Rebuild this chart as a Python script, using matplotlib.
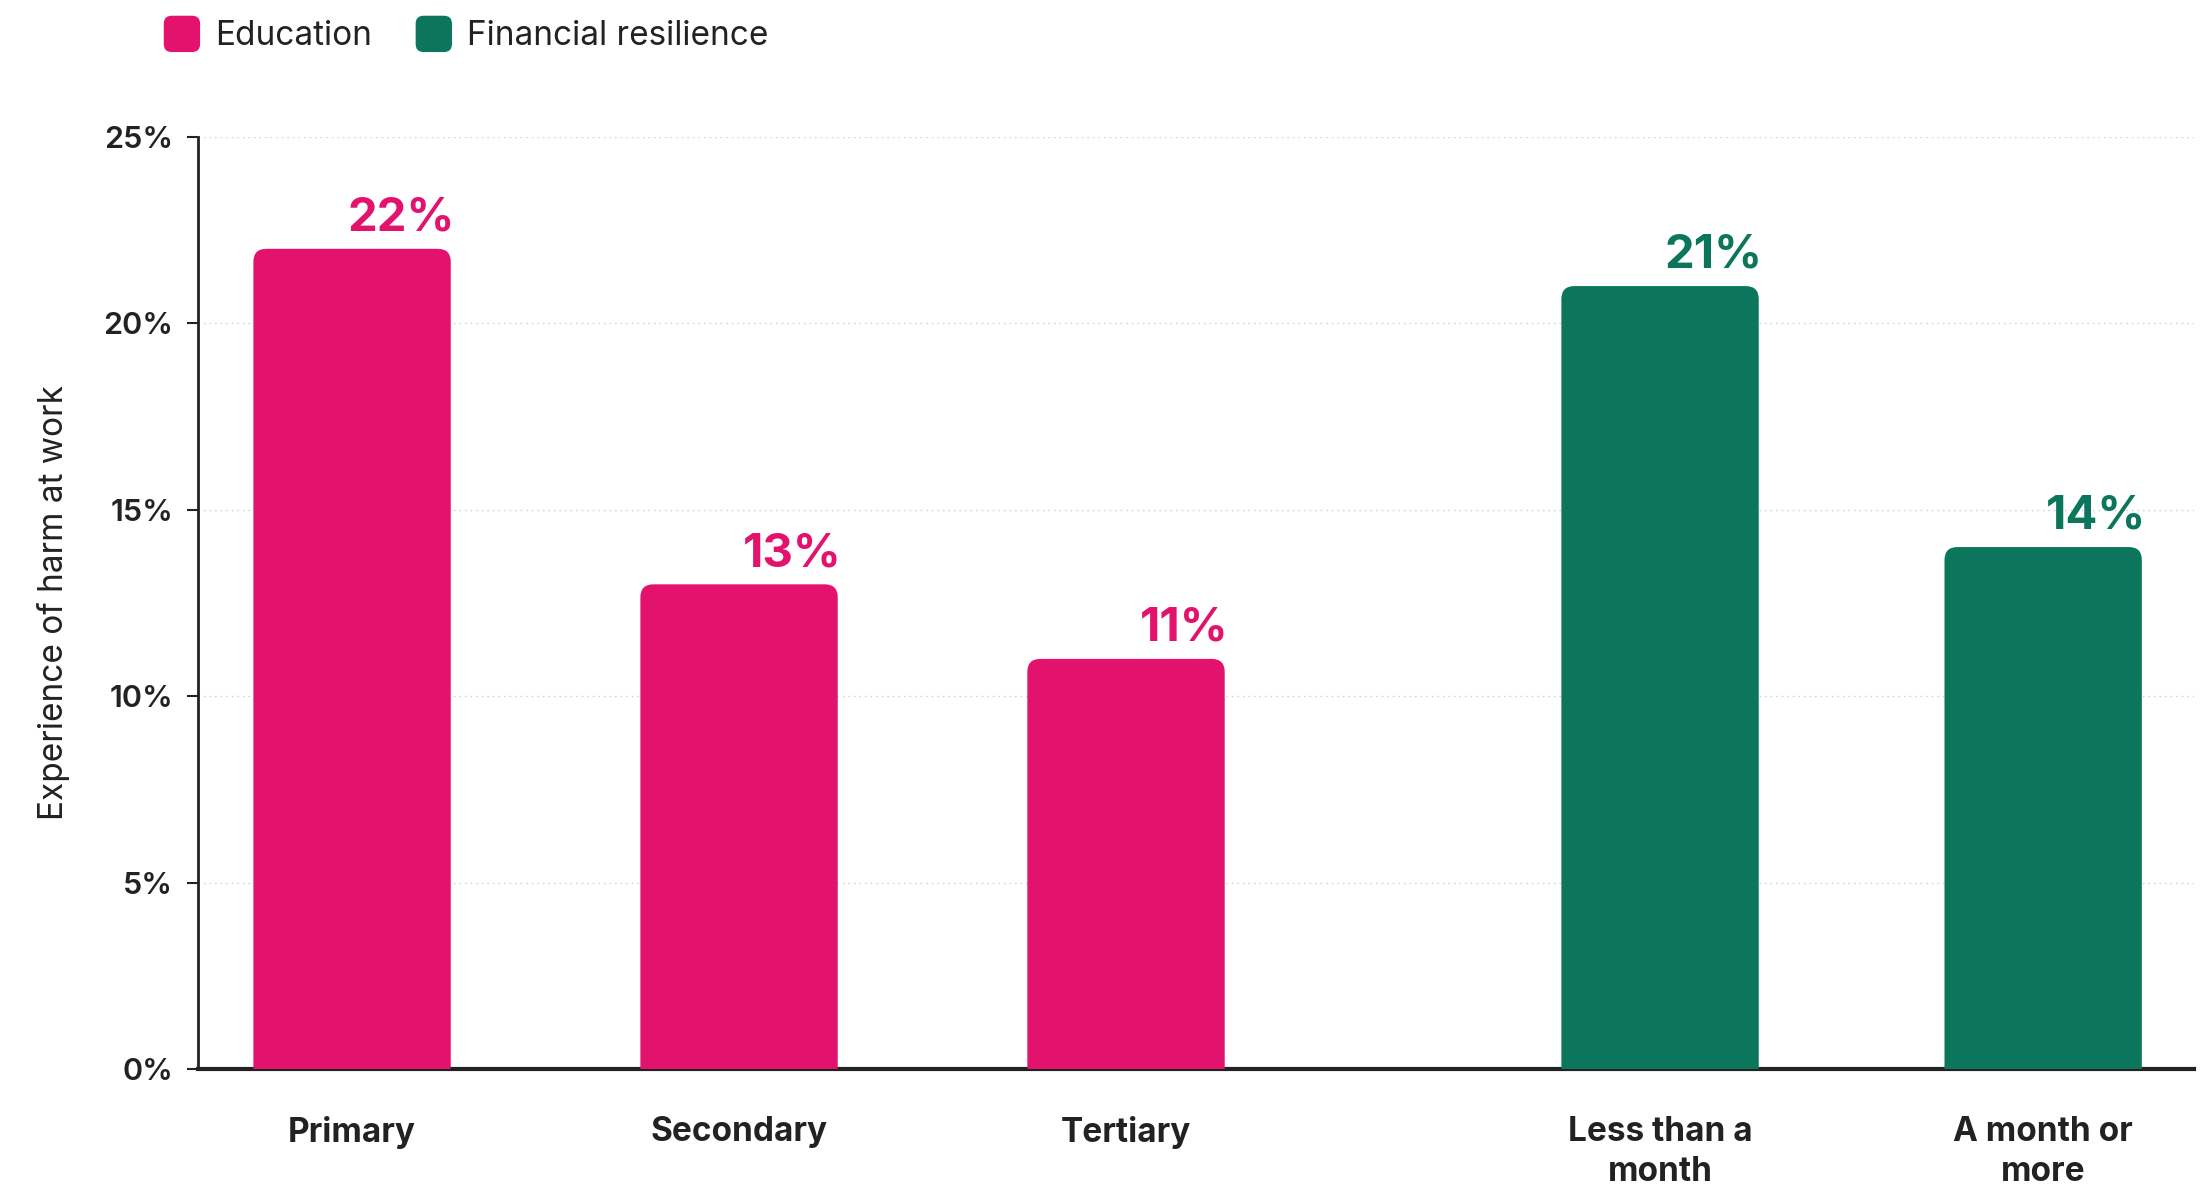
import matplotlib
matplotlib.use("Agg")
import matplotlib.pyplot as plt
from matplotlib.patches import FancyBboxPatch
from matplotlib.legend_handler import HandlerBase
from matplotlib.ticker import FuncFormatter

plt.rcParams['font.family'] = ['Inter', 'DejaVu Sans']

# Data
categories = ["Primary", "Secondary", "Tertiary", "Less than a\nmonth", "A month or\nmore"]
groups = ["Education", "Education", "Education", "Financial resilience", "Financial resilience"]
values = [22, 13, 11, 21, 14]
positions = [0, 1, 2, 3.38, 4.37]
yticks = [0, 5, 10, 15, 20, 25]

colors = {"Education": "#E3126D", "Financial resilience": "#0B765C"}
text_dark = "#222222"

fig = plt.figure(figsize=(22.08, 11.9), dpi=100)
ax = fig.add_axes([0.0897, 0.1017, 0.9040, 0.7832])

bar_w = 0.51
ax.set_xlim(-0.398, 4.76)
ax.set_ylim(0, 25)

# pixel-to-data ratio for circular rounded corners
ax_w_px = 0.9040 * 2208
ax_h_px = 0.7832 * 1190
x_per_px = (4.76 + 0.398) / ax_w_px
y_per_px = 25 / ax_h_px
aspect = y_per_px / x_per_px

for x, v, g in zip(positions, values, groups):
    col = colors[g]
    patch = FancyBboxPatch((x - bar_w / 2, -2), bar_w, v + 2,
                           boxstyle="round,pad=0,rounding_size=%f" % (13 * x_per_px),
                           mutation_aspect=aspect,
                           facecolor=col, edgecolor="none", zorder=3)
    ax.add_patch(patch)
    ax.text(x + bar_w / 2 + 4 * x_per_px, v + 0.22, f"{v}%", ha="right", va="bottom",
            fontsize=34, fontweight="bold", color=col, zorder=4)

ax.set_xticks(positions)
ax.set_xticklabels(categories, fontsize=24, fontweight="bold", color=text_dark,
                   linespacing=1.3)
ax.tick_params(axis="x", length=0, pad=34)

ax.set_yticks(yticks)
ax.yaxis.set_major_formatter(FuncFormatter(lambda v, p: f"{v:.0f}%"))
ax.tick_params(axis="y", length=8, width=1.5, color=text_dark, pad=10,
               labelsize=22, labelcolor=text_dark)
for lab in ax.get_yticklabels():
    lab.set_fontweight("semibold")

ax.set_ylabel("Experience of harm at work", fontsize=24, color=text_dark, labelpad=24)

ax.grid(axis="y", color="#cccccc", linestyle=(0, (1, 3)), linewidth=1, zorder=0)
ax.set_axisbelow(True)

for s in ["top", "right"]:
    ax.spines[s].set_visible(False)
ax.spines["left"].set_color(text_dark)
ax.spines["left"].set_linewidth(2)
ax.spines["bottom"].set_color(text_dark)
ax.spines["bottom"].set_linewidth(3)


class RoundSquareHandler(HandlerBase):
    def create_artists(self, legend, orig_handle, xdescent, ydescent, width, height,
                       fontsize, trans):
        side = height
        r = side * 0.22
        p = FancyBboxPatch((-xdescent + (width - side) / 2, -ydescent), side, side,
                           boxstyle="round,pad=0,rounding_size=%f" % r,
                           facecolor=orig_handle.get_facecolor(), edgecolor="none",
                           transform=trans)
        return [p]


handles = [FancyBboxPatch((0, 0), 1, 1, facecolor=colors[k], edgecolor="none", label=k)
           for k in ["Education", "Financial resilience"]]
fig.legend(handles=handles, labels=["Education", "Financial resilience"],
           handler_map={FancyBboxPatch: RoundSquareHandler()},
           loc="upper left", bbox_to_anchor=(0.059, 1.012),
           ncol=2, frameon=False, fontsize=24, handlelength=1.3, handleheight=1.3,
           handletextpad=0.35, columnspacing=1.2, labelcolor=text_dark)

fig.savefig("out.png", dpi=100, facecolor="white")
